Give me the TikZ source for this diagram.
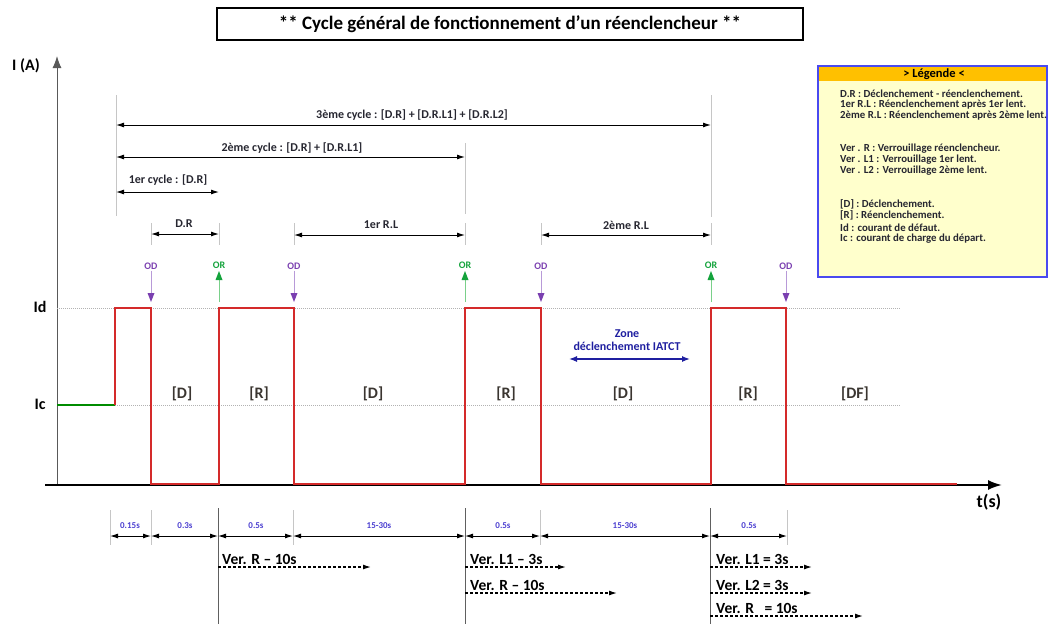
\documentclass[tikz,border=0pt]{standalone}
\usepackage{fontspec}
\setmainfont{Carlito}
\usetikzlibrary{arrows.meta}
\definecolor{wave}{HTML}{D42A2A}
\definecolor{odc}{HTML}{7A3FB0}
\definecolor{odl}{HTML}{B89AD8}
\definecolor{orc}{HTML}{14A33C}
\definecolor{orl}{HTML}{7AD08A}
\definecolor{timec}{HTML}{4B3FD0}
\definecolor{zonec}{HTML}{1F1FA0}
\definecolor{legfill}{HTML}{FFFFCC}
\definecolor{leghead}{HTML}{FFC000}
\definecolor{legborder}{HTML}{4A4AF0}
\definecolor{txt}{HTML}{262630}
\definecolor{segc}{HTML}{3A3530}
\begin{document}
\begin{tikzpicture}[x=1pt,y=-1pt,
  tip/.tip={Latex[length=8pt,width=5pt]},
  darr/.style={tip-tip, line width=1pt, black},
  guide/.style={draw=gray!45, line width=1pt},
  dguide/.style={draw=gray!75!black, line width=1pt},
  small/.style={font=\fontsize{12}{13}\selectfont\bfseries, text=txt, inner sep=1pt},
  leg/.style={font=\fontsize{10.8}{11}\selectfont\bfseries, text=txt, anchor=west, inner sep=0pt},
  seg/.style={font=\fontsize{16}{18}\selectfont\bfseries, text=segc},
  tlab/.style={font=\fontsize{9}{10}\selectfont\bfseries, text=timec, inner sep=1pt},
  sig/.style={font=\fontsize{10}{11}\selectfont\bfseries, inner sep=1pt},
  verl/.style={font=\fontsize{15.5}{17}\selectfont\bfseries, text=black, anchor=base west, inner sep=0pt},
  ver/.style={-tip, line width=1.2pt, dash pattern=on 3pt off 2pt, black},
  level/.style={draw=gray!60, line width=0.9pt, dash pattern=on 1pt off 1pt}]
\useasboundingbox (0,0) rectangle (1049,624);

% title
\node[draw, line width=1.3pt, minimum width=586pt, minimum height=32pt, inner sep=0pt,
  font=\fontsize{19}{21}\selectfont\bfseries] (title) at (510,24)
  {** Cycle général de fonctionnement d’un réenclencheur **};

% axes
\coordinate (o) at (57,485);
\coordinate (ytop) at (57,56);
\coordinate (xl) at (45,485);
\coordinate (xr) at (1002,485);
\draw[-{Latex[length=12pt,width=9pt]}, line width=1pt, gray!70!black] (o) -- (ytop);
\draw[-{Latex[length=14pt,width=10pt]}, line width=2pt, black] (xl) -- (xr);
\node[font=\fontsize{16}{18}\selectfont\bfseries] (ia) at (26,66) {I (A)};
\node[font=\fontsize{18}{20}\selectfont\bfseries] (ts) at (989,502) {t(s)};
\node[font=\fontsize{16}{18}\selectfont\bfseries] (idl) at (40,307) {Id};
\node[font=\fontsize{16}{18}\selectfont\bfseries] (icl) at (40,404) {Ic};

% levels
\coordinate (id0) at (57,308); \coordinate (id1) at (900,308);
\coordinate (ic0) at (57,405); \coordinate (ic1) at (900,405);
\draw[level] (id0) -- (id1);
\draw[level] (ic0) -- (ic1);

% waveform
\draw[line width=1.2pt, green!55!black] (ic0) -- (115,405);
\draw[line width=2pt, wave, line join=miter]
  (115,405) -- (115,308) -- (151,308) -- (151,484) -- (219,484) -- (219,308)
  -- (294,308) -- (294,484) -- (465,484) -- (465,308) -- (541,308) -- (541,484)
  -- (711,484) -- (711,308) -- (786,308) -- (786,484) -- (957,484);

% segment labels
\node[seg] (s1) at (182,394) {[D]};
\node[seg] (s2) at (259,394) {[R]};
\node[seg] (s3) at (373,394) {[D]};
\node[seg] (s4) at (506,394) {[R]};
\node[seg] (s5) at (623,394) {[D]};
\node[seg] (s6) at (748,394) {[R]};
\node[seg] (s7) at (855,394) {[DF]};

% zone
\node[font=\fontsize{12}{13.5}\selectfont\bfseries, text=zonec, align=center, inner sep=0pt] (zone) at (627,340)
  {Zone\\déclenchement IATCT};
\coordinate (z0) at (569,359); \coordinate (z1) at (690,359);
\draw[{Latex[length=8pt,width=6pt]}-{Latex[length=8pt,width=6pt]}, line width=1.3pt, zonec] (z0) -- (z1);

% OD / OR markers
\foreach \x/\n in {151/a,294/b,541/c,786/d}{
  \node[sig, text=odc] (od\n) at (\x,266) {OD};
  \draw[line width=0.9pt, odl] (od\n.south) -- (\x,296);
  \fill[odc] (\x,302) -- (\x-3.5,293) -- (\x+3.5,293) -- cycle;
}
\foreach \x/\n in {219/a,465/b,711/c}{
  \node[sig, text=orc] (or\n) at (\x,265) {OR};
  \draw[line width=0.9pt, orl] (\x,302) -- (\x,278);
  \fill[orc] (\x,271) -- (\x-3.5,280) -- (\x+3.5,280) -- cycle;
}

% cycle guides
\draw[guide] (116,95) -- (116,216);
\draw[guide] (465,143) -- (465,214);
\draw[guide] (711,95) -- (711,217);
\coordinate (c3a) at (116,125); \coordinate (c3b) at (711,125);
\coordinate (c2a) at (116,157); \coordinate (c2b) at (465,157);
\coordinate (c1a) at (116,192); \coordinate (c1b) at (219,192);
\draw[darr] (c3a) -- (c3b);
\draw[darr] (c2a) -- (c2b);
\draw[darr] (c1a) -- (c1b);
\node[small] (l3) at (412,115) {3ème cycle : [D.R] + [D.R.L1] + [D.R.L2]};
\node[small] (l2) at (292,148) {2ème cycle : [D.R] + [D.R.L1]};
\node[small] (l1) at (168,180) {1er cycle : [D.R]};

% D.R / R.L spans
\foreach \x in {151,219,294,465,541,711}{ \draw[guide] (\x,223) -- (\x,245); }
\draw[darr] (151,234) -- (219,234);
\draw[darr] (294,235) -- (465,235);
\draw[darr] (541,235) -- (711,235);
\node[small] (dr) at (184,224) {D.R};
\node[small] (rl1) at (381,225) {1er R.L};
\node[small] (rl2) at (626,225) {2ème R.L};

% bottom timing row
\foreach \x in {110,151,293,540,787}{ \draw[guide] (\x,510) -- (\x,545); }
\foreach \x in {218,465,710}{ \draw[dguide] (\x,508) -- (\x,624); }
\draw[darr] (110,536) -- (151,536);
\draw[darr] (151,536) -- (218,536);
\draw[darr] (218,536) -- (293,536);
\draw[darr] (293,536) -- (465,536);
\draw[darr] (465,536) -- (540,536);
\draw[darr] (540,536) -- (710,536);
\draw[darr] (710,536) -- (787,536);
\node[tlab] (t1) at (130,526) {0.15s};
\node[tlab] (t2) at (185,526) {0.3s};
\node[tlab] (t3) at (256,526) {0.5s};
\node[tlab] (t4) at (379,526) {15-30s};
\node[tlab] (t5) at (503,526) {0.5s};
\node[tlab] (t6) at (625,526) {15-30s};
\node[tlab] (t7) at (749,526) {0.5s};

% Ver. arrows
\draw[ver] (218,567) -- (371,567);
\node[verl] (v1) at (222,564) {Ver. R – 10s};
\draw[ver] (465,567) -- (566,567);
\node[verl] (v2) at (470,564) {Ver. L1 – 3s};
\draw[ver] (465,593) -- (617,593);
\node[verl] (v3) at (470,590) {Ver. R – 10s};
\draw[ver] (710,567) -- (812,567);
\node[verl] (v4) at (716,564) {Ver. L1 = 3s};
\draw[ver] (710,593) -- (812,593);
\node[verl] (v5) at (716,590) {Ver. L2 = 3s};
\draw[ver] (710,616) -- (863,616);
\node[verl] (v6) at (716,613) {Ver. R\ \ \ = 10s};

% legend
\draw[draw=legborder, fill=legfill, line width=1.3pt] (818,66) rectangle (1047,277);
\fill[leghead] (819,67) rectangle (1046,81);
\node[font=\fontsize{12.5}{13}\selectfont\bfseries, text=black, inner sep=0pt] (legt) at (934,74) {> Légende <};
\node[leg] (g1) at (840,94) {D.R : Déclenchement - réenclenchement.};
\node[leg] (g2) at (840,105) {1er R.L\ : Réenclenchement après 1er lent.};
\node[leg] (g3) at (840,116) {2ème R.L\ : Réenclenchement après 2ème lent.};
\node[leg] (g4) at (840,149) {Ver . R : Verrouillage réenclencheur.};
\node[leg] (g5) at (840,160) {Ver . L1 : Verrouillage 1er lent.};
\node[leg] (g6) at (840,171) {Ver . L2 : Verrouillage 2ème lent.};
\node[leg] (g7) at (840,204) {[D] : Déclenchement.};
\node[leg] (g8) at (840,215) {[R] : Réenclenchement.};
\node[leg] (g9) at (840,228) {Id : courant de défaut.};
\node[leg] (g10) at (840,239) {Ic : courant de charge du départ.};
\end{tikzpicture}
\end{document}
